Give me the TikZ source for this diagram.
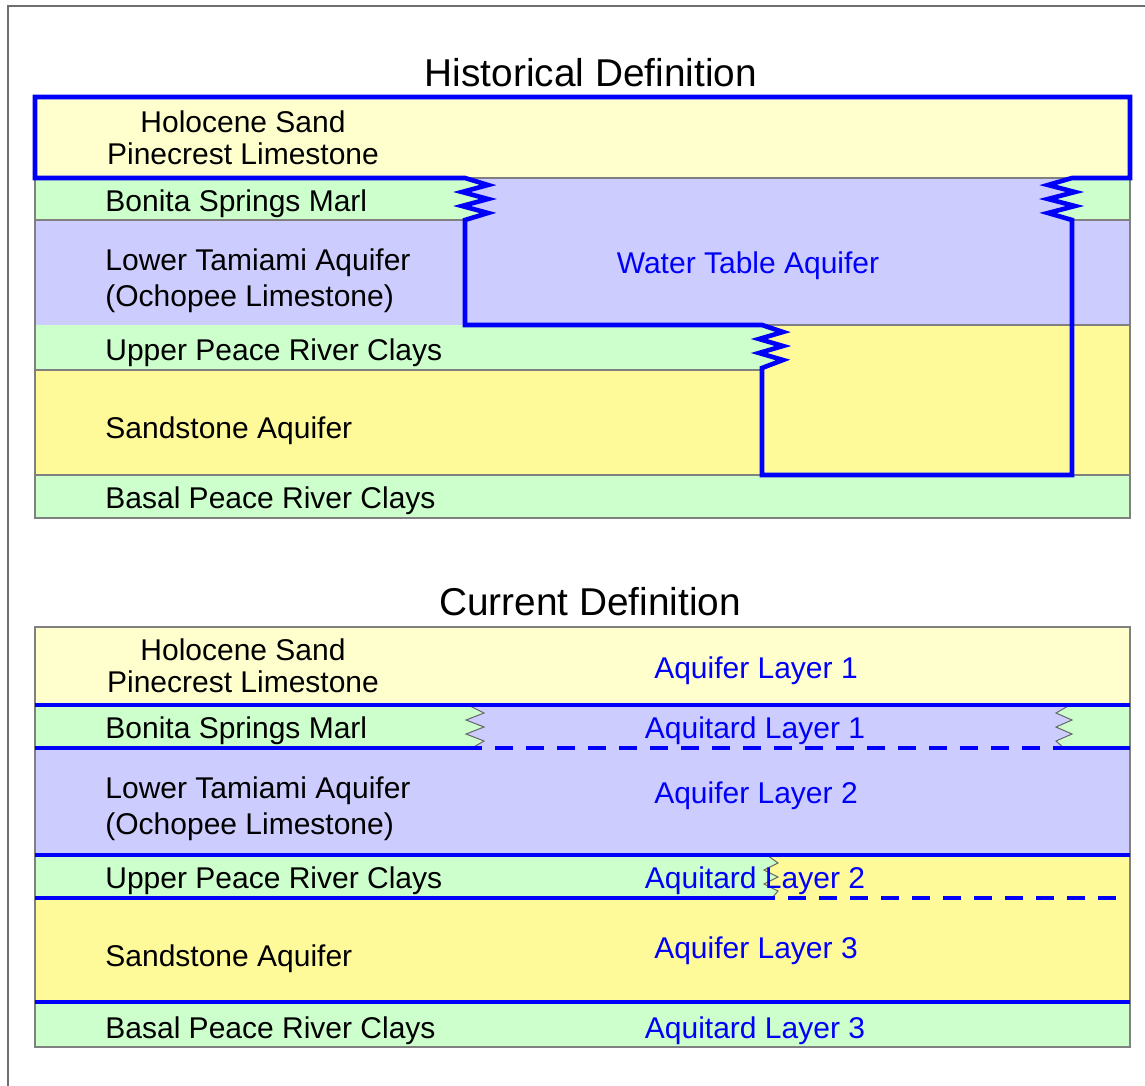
\documentclass[tikz,border=0pt]{standalone}
\usepackage{fontspec}
\setmainfont{Liberation Sans}
\usetikzlibrary{positioning}
\definecolor{sandyellow}{RGB}{255,255,206}
\definecolor{aquiferyellow}{RGB}{255,250,153}
\definecolor{claygreen}{RGB}{204,255,204}
\definecolor{aquiferviolet}{RGB}{204,204,255}
\definecolor{boundblue}{RGB}{0,0,250}
\definecolor{edgegrey}{RGB}{128,128,128}
\definecolor{framegrey}{RGB}{110,110,110}

\begin{document}
\begin{tikzpicture}[
    x=0.5pt,
    y=-0.5pt
]

\tikzset{
    layer/.style={
        draw=edgegrey,
        line width=0.6pt
    },
    bound/.style={
        draw=boundblue,
        line width=2.3pt,
        line join=miter
    },
    dashbound/.style={
        bound,
        dash pattern=on 9pt off 6.5pt,
        dash phase=9pt
    },
    zig/.style={
        draw=edgegrey!80!black,
        line width=0.5pt
    },
    lbl/.style={
        anchor=west,
        inner sep=0pt,
        font=\fontsize{15}{18}\selectfont,
        text height=10.7pt,
        text depth=0pt
    },
    unit/.style={
        lbl,
        anchor=center,
        text=boundblue
    },
    heading/.style={
        inner sep=0pt,
        font=\fontsize{19.4}{23}\selectfont,
        text height=13.9pt,
        text depth=0pt
    }
}

\useasboundingbox (0,0) rectangle (1145,1086);
\draw[framegrey,line width=1pt] (1145,6) -- (8,6) -- (8,1086);

% historical definition
\fill[sandyellow] (35,97) rectangle (1130,178);
\fill[claygreen] (35,178) rectangle (1130,220);
\fill[aquiferviolet] (465,178) -- (488,185) -- (462,192) -- (488,199) -- (462,206) -- (488,213) -- (465,220)
    -- (1072,220) -- (1048,213) -- (1075,206) -- (1048,199) -- (1075,192) -- (1048,185) -- (1072,178) -- cycle;
\fill[aquiferviolet] (35,220) rectangle (1130,325);
\fill[aquiferyellow] (35,325) rectangle (1130,370);
\fill[claygreen] (35,325) -- (762,325) -- (783,332) -- (759,339) -- (783,346) -- (759,353) -- (783,360) -- (762,368)
    -- (762,370) -- (35,370) -- cycle;
\fill[aquiferyellow] (35,370) rectangle (1130,475);
\fill[claygreen] (35,475) rectangle (1130,518);

\draw[layer] (35,97) rectangle (1130,518);
\draw[layer] (465,178) -- (1072,178);
\draw[layer] (35,220) -- (465,220) (1072,220) -- (1130,220);
\draw[layer] (762,325) -- (1130,325);
\draw[layer] (35,370) -- (762,370);
\draw[layer] (35,475) -- (1130,475);

\draw[bound] (35,97) -- (1130,97) -- (1130,178) -- (1072,178)
    -- (1048,185) -- (1075,192) -- (1048,199) -- (1075,206) -- (1048,213) -- (1072,220)
    -- (1072,475) -- (762,475) -- (762,368)
    -- (783,360) -- (759,353) -- (783,346) -- (759,339) -- (783,332) -- (762,325)
    -- (465,325) -- (465,220)
    -- (488,213) -- (462,206) -- (488,199) -- (462,192) -- (488,185) -- (465,178)
    -- (35,178) -- cycle;

\node[heading] (histtitle) at (591,73) {Historical Definition};

\node[lbl,anchor=center] (hholoA) at (243,122) {Holocene Sand};
\node[lbl,below=4.8pt of hholoA] (hholoB) {Pinecrest Limestone};
\node[lbl] (hbonita) at (105,201) {Bonita Springs Marl};
\node[lbl] (htamA) at (105,260) {Lower Tamiami Aquifer};
\node[lbl,below=6.8pt of htamA.south west,anchor=north west] (htamB) {(Ochopee Limestone)};
\node[lbl] (hupper) at (105,350) {Upper Peace River Clays};
\node[lbl] (hsand) at (105,428) {Sandstone Aquifer};
\node[lbl] (hbasal) at (105,498) {Basal Peace River Clays};
\node[unit] (watertable) at (748,263) {Water Table Aquifer};

% current definition
\fill[sandyellow] (35,627) rectangle (1130,705);
\fill[aquiferviolet] (35,705) rectangle (1130,748);
\fill[claygreen] (35,705) -- (468,705) -- (484,713) -- (466,720) -- (484,727) -- (466,734) -- (484,741) -- (472,748)
    -- (35,748) -- cycle;
\fill[claygreen] (1130,705) -- (1070,705) -- (1056,713) -- (1072,720) -- (1056,727) -- (1072,734) -- (1056,741) -- (1064,748)
    -- (1130,748) -- cycle;
\fill[aquiferviolet] (35,748) rectangle (1130,855);
\fill[aquiferyellow] (35,855) rectangle (1130,898);
\fill[claygreen] (35,855) -- (767,855) -- (778,863) -- (764,870) -- (778,877) -- (764,884) -- (778,891) -- (772,898)
    -- (35,898) -- cycle;
\fill[aquiferyellow] (35,898) rectangle (1130,1002);
\fill[claygreen] (35,1002) rectangle (1130,1047);

\draw[layer] (35,627) rectangle (1130,1047);
\draw[zig] (468,705) -- (484,713) -- (466,720) -- (484,727) -- (466,734) -- (484,741) -- (472,748);
\draw[zig] (1070,705) -- (1056,713) -- (1072,720) -- (1056,727) -- (1072,734) -- (1056,741) -- (1064,748);
\draw[zig] (767,855) -- (778,863) -- (764,870) -- (778,877) -- (764,884) -- (778,891) -- (772,898);

\draw[bound] (35,705) -- (1130,705);
\draw[bound] (35,748) -- (482,748) (1057,748) -- (1130,748);
\draw[dashbound] (482,748) -- (1057,748);
\draw[bound] (35,855) -- (1130,855);
\draw[bound] (35,898) -- (775,898);
\draw[dashbound] (775,898) -- (1122,898);
\draw[bound] (35,1002) -- (1130,1002);

\node[heading] (currtitle) at (590,602) {Current Definition};

\node[lbl,anchor=center] (choloA) at (243,650) {Holocene Sand};
\node[lbl,below=4.8pt of choloA] (choloB) {Pinecrest Limestone};
\node[lbl] (cbonita) at (105,728) {Bonita Springs Marl};
\node[lbl] (ctamA) at (105,788) {Lower Tamiami Aquifer};
\node[lbl,below=6.8pt of ctamA.south west,anchor=north west] (ctamB) {(Ochopee Limestone)};
\node[lbl] (cupper) at (105,878) {Upper Peace River Clays};
\node[lbl] (csand) at (105,956) {Sandstone Aquifer};
\node[lbl] (cbasal) at (105,1028) {Basal Peace River Clays};

\node[unit] (aquifer1) at (756,668) {Aquifer Layer 1};
\node[unit] (aquitard1) at (755,728) {Aquitard Layer 1};
\node[unit] (aquifer2) at (756,793) {Aquifer Layer 2};
\node[unit] (aquitard2) at (755,878) {Aquitard Layer 2};
\node[unit] (aquifer3) at (756,948) {Aquifer Layer 3};
\node[unit] (aquitard3) at (755,1028) {Aquitard Layer 3};

\end{tikzpicture}
\end{document}
